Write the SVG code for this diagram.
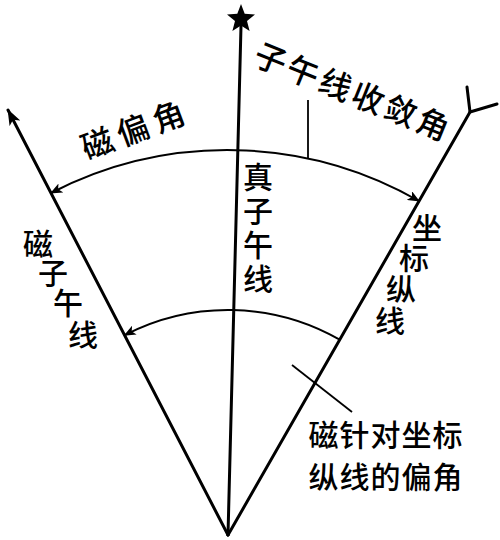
<svg xmlns="http://www.w3.org/2000/svg" width="500" height="540" viewBox="0 0 500 540">
<style>
.main{stroke:#000;stroke-width:3;fill:none;stroke-linecap:round}
.arc{stroke:#000;stroke-width:2;fill:none}
.lead{stroke:#000;stroke-width:1.8;fill:none}
.t{font-family:"Noto Sans CJK SC","Noto Sans CJK JP",sans-serif;font-size:30px;font-weight:500;fill:#000;text-anchor:middle;dominant-baseline:central}
</style>
<defs>
<marker id="ah" viewBox="0 0 12 10" refX="11" refY="5" markerWidth="12" markerHeight="10" markerUnits="userSpaceOnUse" orient="auto-start-reverse">
<path d="M0,0 L12,5 L0,10 L3,5 Z" fill="#000"/>
</marker>
<marker id="ahb" viewBox="0 0 16 12" refX="15" refY="6" markerWidth="16" markerHeight="12" markerUnits="userSpaceOnUse" orient="auto">
<path d="M0,0 L16,6 L0,12 L4,6 Z" fill="#000"/>
</marker>
</defs>
<rect width="500" height="540" fill="#fff"/>
<g id="connectors">
<line id="true-meridian" class="main" x1="228" y1="535" x2="241" y2="26"/>
<line id="magnetic-meridian" class="main" x1="228" y1="535" x2="8" y2="110" marker-end="url(#ahb)"/>
<line id="grid-line" class="main" x1="228" y1="535" x2="470" y2="112"/>
<polyline class="main" points="467,87 470,112 497,104"/>
<path id="outer-arc" class="arc" d="M51,193 A385,385 0 0 1 419,201" marker-start="url(#ah)" marker-end="url(#ah)"/>
<path id="inner-arc" class="arc" d="M124.6,335.2 A225,225 0 0 1 339.7,339.7" marker-start="url(#ah)"/>
<line class="lead" x1="308" y1="100" x2="308" y2="158"/>
<line class="lead" x1="292" y1="365" x2="352" y2="412"/>
</g>
<g id="star">
<polygon fill="#000" points="241,4 244.7,13.8 255,14.4 247,21 249.6,31 241,25.4 232.4,31 235,21 227,14.4 237.3,13.8"/>
</g>
<g id="label-declination">
<text class="t" transform="translate(135,127) rotate(-20.5)" style="font-size:32px;letter-spacing:6px">磁偏角</text>
</g>
<g id="label-convergence">
<text class="t" transform="translate(354,90) rotate(22)" style="font-size:32px;letter-spacing:3px">子午线收敛角</text>
</g>
<g id="label-true">
<text class="t" x="258 258 258 258" y="175 209 243 277">真子午线</text>
</g>
<g id="label-magnetic">
<text class="t" x="38 53 68 83" y="242 271 301 333">磁子午线</text>
</g>
<g id="label-grid">
<text class="t" x="427 414 401 390" y="226 256 287 319">坐标纵线</text>
</g>
<g id="label-grid-declination">
<text class="t" x="386" y="433" style="letter-spacing:1px">磁针对坐标</text>
<text class="t" x="386" y="475" style="letter-spacing:1px">纵线的偏角</text>
</g>
</svg>
